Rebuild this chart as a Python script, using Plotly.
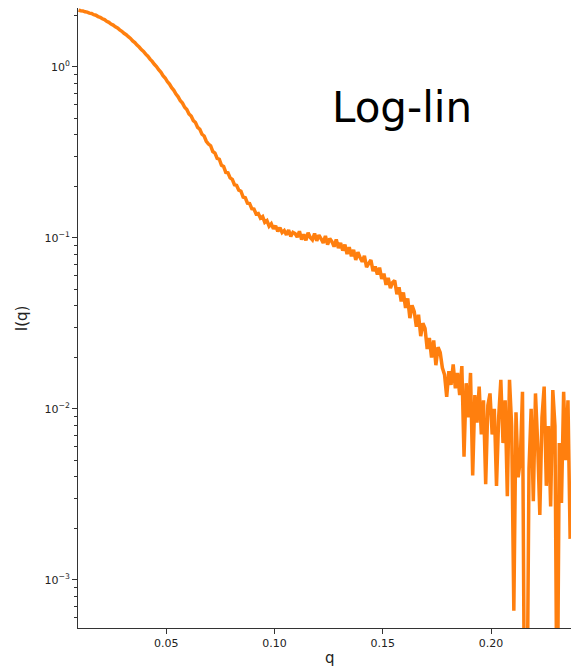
import plotly.graph_objects as go

# scattering vector q (uniform sampling)
q = [
    0.0095, 0.0105, 0.0115, 0.0125, 0.0135, 0.0145, 0.0155, 0.0165, 0.0175, 0.0185,
    0.0195, 0.0205, 0.0215, 0.0225, 0.0235, 0.0245, 0.0255, 0.0265, 0.0275, 0.0285,
    0.0295, 0.0305, 0.0315, 0.0325, 0.0335, 0.0345, 0.0355, 0.0365, 0.0375, 0.0385,
    0.0395, 0.0405, 0.0415, 0.0425, 0.0435, 0.0445, 0.0455, 0.0465, 0.0475, 0.0485,
    0.0495, 0.0505, 0.0515, 0.0525, 0.0535, 0.0545, 0.0555, 0.0565, 0.0575, 0.0585,
    0.0595, 0.0605, 0.0615, 0.0625, 0.0635, 0.0645, 0.0655, 0.0665, 0.0675, 0.0685,
    0.0695, 0.0705, 0.0715, 0.0725, 0.0735, 0.0745, 0.0755, 0.0765, 0.0775, 0.0785,
    0.0795, 0.0805, 0.0815, 0.0825, 0.0835, 0.0845, 0.0855, 0.0865, 0.0875, 0.0885,
    0.0895, 0.0905, 0.0915, 0.0925, 0.0935, 0.0945, 0.0955, 0.0965, 0.0975, 0.0985,
    0.0995, 0.1005, 0.1015, 0.1025, 0.1035, 0.1045, 0.1055, 0.1065, 0.1075, 0.1085,
    0.1095, 0.1105, 0.1115, 0.1125, 0.1135, 0.1145, 0.1155, 0.1165, 0.1175, 0.1185,
    0.1195, 0.1205, 0.1215, 0.1225, 0.1235, 0.1245, 0.1255, 0.1265, 0.1275, 0.1285,
    0.1295, 0.1305, 0.1315, 0.1325, 0.1335, 0.1345, 0.1355, 0.1365, 0.1375, 0.1385,
    0.1395, 0.1405, 0.1415, 0.1425, 0.1435, 0.1445, 0.1455, 0.1465, 0.1475, 0.1485,
    0.1495, 0.1505, 0.1515, 0.1525, 0.1535, 0.1545, 0.1555, 0.1565, 0.1575, 0.1585,
    0.1595, 0.1605, 0.1615, 0.1625, 0.1635, 0.1645, 0.1655, 0.1665, 0.1675, 0.1685,
    0.1695, 0.1705, 0.1715, 0.1725, 0.1735, 0.1745, 0.1755, 0.1765, 0.1775, 0.1785,
    0.1795, 0.1805, 0.1815, 0.1825, 0.1835, 0.1845, 0.1855, 0.1865, 0.1875, 0.1885,
    0.1895, 0.1905, 0.1915, 0.1925, 0.1935, 0.1945, 0.1955, 0.1965, 0.1975, 0.1985,
    0.1995, 0.2005, 0.2015, 0.2025, 0.2035, 0.2045, 0.2055, 0.2065, 0.2075, 0.2085,
    0.2095, 0.2105, 0.2115, 0.2125, 0.2135, 0.2145, 0.2155, 0.2165, 0.2175, 0.2185,
    0.2195, 0.2205, 0.2215, 0.2225, 0.2235, 0.2245, 0.2255, 0.2265, 0.2275, 0.2285,
    0.2295, 0.2305, 0.2315, 0.2325, 0.2335, 0.2345, 0.2355, 0.2365,
]

# log10 of the intensity I(q)
log10_I = [
    0.331, 0.327, 0.326, 0.321, 0.319, 0.313, 0.311, 0.304, 0.301, 0.293,
    0.289, 0.280, 0.275, 0.265, 0.259, 0.249, 0.243, 0.233, 0.226, 0.215,
    0.207, 0.195, 0.187, 0.175, 0.165, 0.151, 0.141, 0.126, 0.115, 0.100,
    0.089, 0.073, 0.061, 0.044, 0.031, 0.014, 0.001, -0.018, -0.032, -0.052,
    -0.066, -0.087, -0.102, -0.123, -0.138, -0.160, -0.176, -0.199, -0.213, -0.237,
    -0.250, -0.276, -0.288, -0.315, -0.326, -0.355, -0.366, -0.395, -0.405, -0.436,
    -0.452, -0.462, -0.496, -0.505, -0.536, -0.541, -0.577, -0.584, -0.618, -0.620,
    -0.650, -0.659, -0.690, -0.694, -0.722, -0.728, -0.762, -0.766, -0.798, -0.800,
    -0.830, -0.832, -0.861, -0.858, -0.885, -0.876, -0.910, -0.900, -0.932, -0.918,
    -0.948, -0.930, -0.962, -0.941, -0.970, -0.958, -0.983, -0.955, -0.992, -0.968,
    -0.975, -0.996, -0.962, -1.010, -0.980, -1.015, -0.970, -0.998, -1.012, -0.975,
    -1.018, -0.985, -1.006, -1.030, -0.990, -1.040, -1.005, -1.022, -1.052, -1.010,
    -1.060, -1.030, -1.075, -1.040, -1.095, -1.055, -1.108, -1.070, -1.130, -1.085,
    -1.115, -1.140, -1.105, -1.172, -1.150, -1.130, -1.195, -1.168, -1.215, -1.175,
    -1.240, -1.210, -1.275, -1.235, -1.295, -1.262, -1.250, -1.330, -1.290, -1.372,
    -1.320, -1.410, -1.355, -1.470, -1.395, -1.430, -1.520, -1.450, -1.575, -1.500,
    -1.530, -1.650, -1.585, -1.700, -1.600, -1.745, -1.640, -1.670, -1.760, -1.800,
    -1.930, -1.780, -1.860, -1.740, -1.880, -1.790, -1.920, -1.750, -2.280, -1.850,
    -2.050, -1.790, -2.390, -1.920, -2.080, -1.870, -2.150, -1.950, -2.440, -1.980,
    -1.910, -2.150, -2.000, -2.450, -2.050, -1.830, -2.200, -1.950, -2.510, -1.830,
    -2.100, -3.180, -2.020, -2.400, -2.300, -1.900, -4.000, -4.000, -2.350, -2.000,
    -2.540, -1.910, -2.200, -2.620, -2.050, -1.870, -2.450, -2.100, -2.570, -1.890,
    -2.100, -4.000, -2.200, -2.550, -1.900, -2.300, -1.950, -2.760,
]

I = [10 ** v for v in log10_I]

x_tickvals = [0.05, 0.10, 0.15, 0.20]
x_ticktext = ["0.05", "0.10", "0.15", "0.20"]
y_tickvals = [1, 0.1, 0.01, 0.001]
y_ticktext = ["10<sup>0</sup>", "10<sup>−1</sup>", "10<sup>−2</sup>", "10<sup>−3</sup>"]
y_minorvals = [m * 10.0 ** e for e in range(-4, 1) for m in range(2, 10)]

AX = "#333333"
FONT = "DejaVu Sans"

fig = go.Figure(
    go.Scatter(
        x=q, y=I, mode="lines",
        line=dict(color="#ff7f0e", width=3.5, simplify=False),
        hoverinfo="skip",
    )
)

fig.update_layout(
    width=571, height=667,
    margin=dict(l=78, r=0, t=8, b=39),
    plot_bgcolor="white", paper_bgcolor="white",
    showlegend=False,
    font=dict(family=FONT, size=11, color="#222222"),
    annotations=[
        dict(text="Log-lin", xref="paper", yref="paper", x=0.511, y=0.839,
             xanchor="left", yanchor="middle", showarrow=False,
             font=dict(family=FONT, size=42, color="black")),
        dict(text="q", xref="paper", yref="paper", x=0.5115, y=-0.03,
             xanchor="center", yanchor="top", showarrow=False,
             font=dict(family=FONT, size=15, color="#222222")),
        dict(text="I(q)", xref="paper", yref="paper", x=-0.113, y=0.5,
             xanchor="center", yanchor="middle", showarrow=False, textangle=-90,
             font=dict(family=FONT, size=15, color="#222222")),
    ],
)

fig.update_xaxes(
    range=[0.00925, 0.2369],
    tickmode="array", tickvals=x_tickvals, ticktext=x_ticktext,
    ticks="outside", ticklen=5, tickwidth=1, tickcolor=AX,
    showline=True, linecolor=AX, linewidth=1,
    showgrid=False, zeroline=False,
    tickfont=dict(family=FONT, size=11, color="#222222"),
)

fig.update_yaxes(
    type="log", range=[-3.281, 0.343],
    tickmode="array", tickvals=y_tickvals, ticktext=y_ticktext,
    ticks="outside", ticklen=5, tickwidth=1, tickcolor=AX,
    minor=dict(tickmode="array", tickvals=y_minorvals, ticks="outside",
               ticklen=3, tickwidth=1, tickcolor=AX, showgrid=False),
    showline=True, linecolor=AX, linewidth=1,
    showgrid=False, zeroline=False,
    tickfont=dict(family=FONT, size=11, color="#222222"),
)

fig.write_html("out.html")
